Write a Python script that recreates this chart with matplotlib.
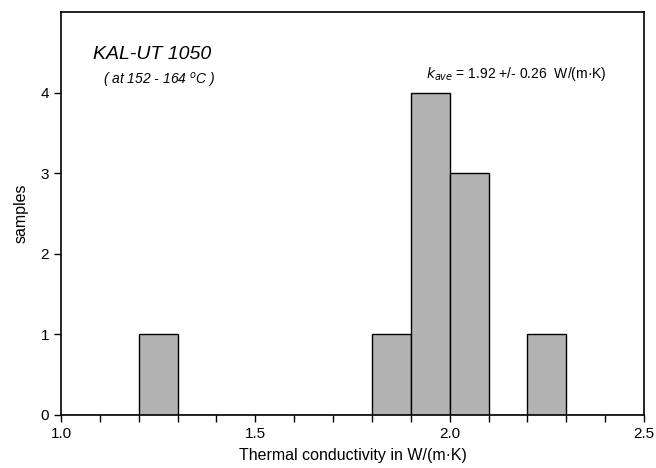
import matplotlib
matplotlib.use("Agg")
import matplotlib.pyplot as plt
import numpy as np

plt.rcParams['font.family'] = ['Liberation Sans', 'DejaVu Sans']

# histogram bins (left edges) and counts
bin_left = [1.0, 1.1, 1.2, 1.3, 1.4, 1.5, 1.6, 1.7, 1.8, 1.9, 2.0, 2.1, 2.2, 2.3, 2.4]
counts = [0, 0, 1, 0, 0, 0, 0, 0, 1, 4, 3, 0, 1, 0, 0]
bin_width = 0.1

fig = plt.figure(figsize=(6.56, 4.68), dpi=100)
ax = fig.add_axes([61/656, 1 - 415/468, 583/656, 403/468])

ax.bar(bin_left, counts, width=bin_width, align="edge",
       color="#b3b3b3", edgecolor="black", linewidth=1.0)

ax.set_xlim(1.0, 2.5)
ax.set_ylim(0, 5.0)
ax.set_xticks([1.0, 1.5, 2.0, 2.5])
ax.set_xticks(np.arange(1.0, 2.51, 0.1), minor=True)
ax.set_yticks([0, 1, 2, 3, 4])
ax.tick_params(axis="both", direction="out", length=5, width=1, labelsize=11)
ax.tick_params(axis="x", which="minor", direction="out", length=5, width=1)
for s in ax.spines.values():
    s.set_linewidth(1.2)

ax.set_xlabel("Thermal conductivity in W/(m·K)", fontsize=11.5, labelpad=5)
ax.set_ylabel("samples", fontsize=11.5, labelpad=9)

ax.text(0.055, 0.895, "KAL-UT 1050", transform=ax.transAxes,
        fontsize=14, style="italic", ha="left", va="center")
ax.text(0.072, 0.83, "( at 152 - 164 $^{o}$C )", transform=ax.transAxes,
        fontsize=10, style="italic", ha="left", va="center")
ax.text(0.626, 0.845, "$k_{ave}$ = 1.92 +/- 0.26  W/(m·K)", transform=ax.transAxes,
        fontsize=10, ha="left", va="center")

fig.savefig("out.png", dpi=100)
